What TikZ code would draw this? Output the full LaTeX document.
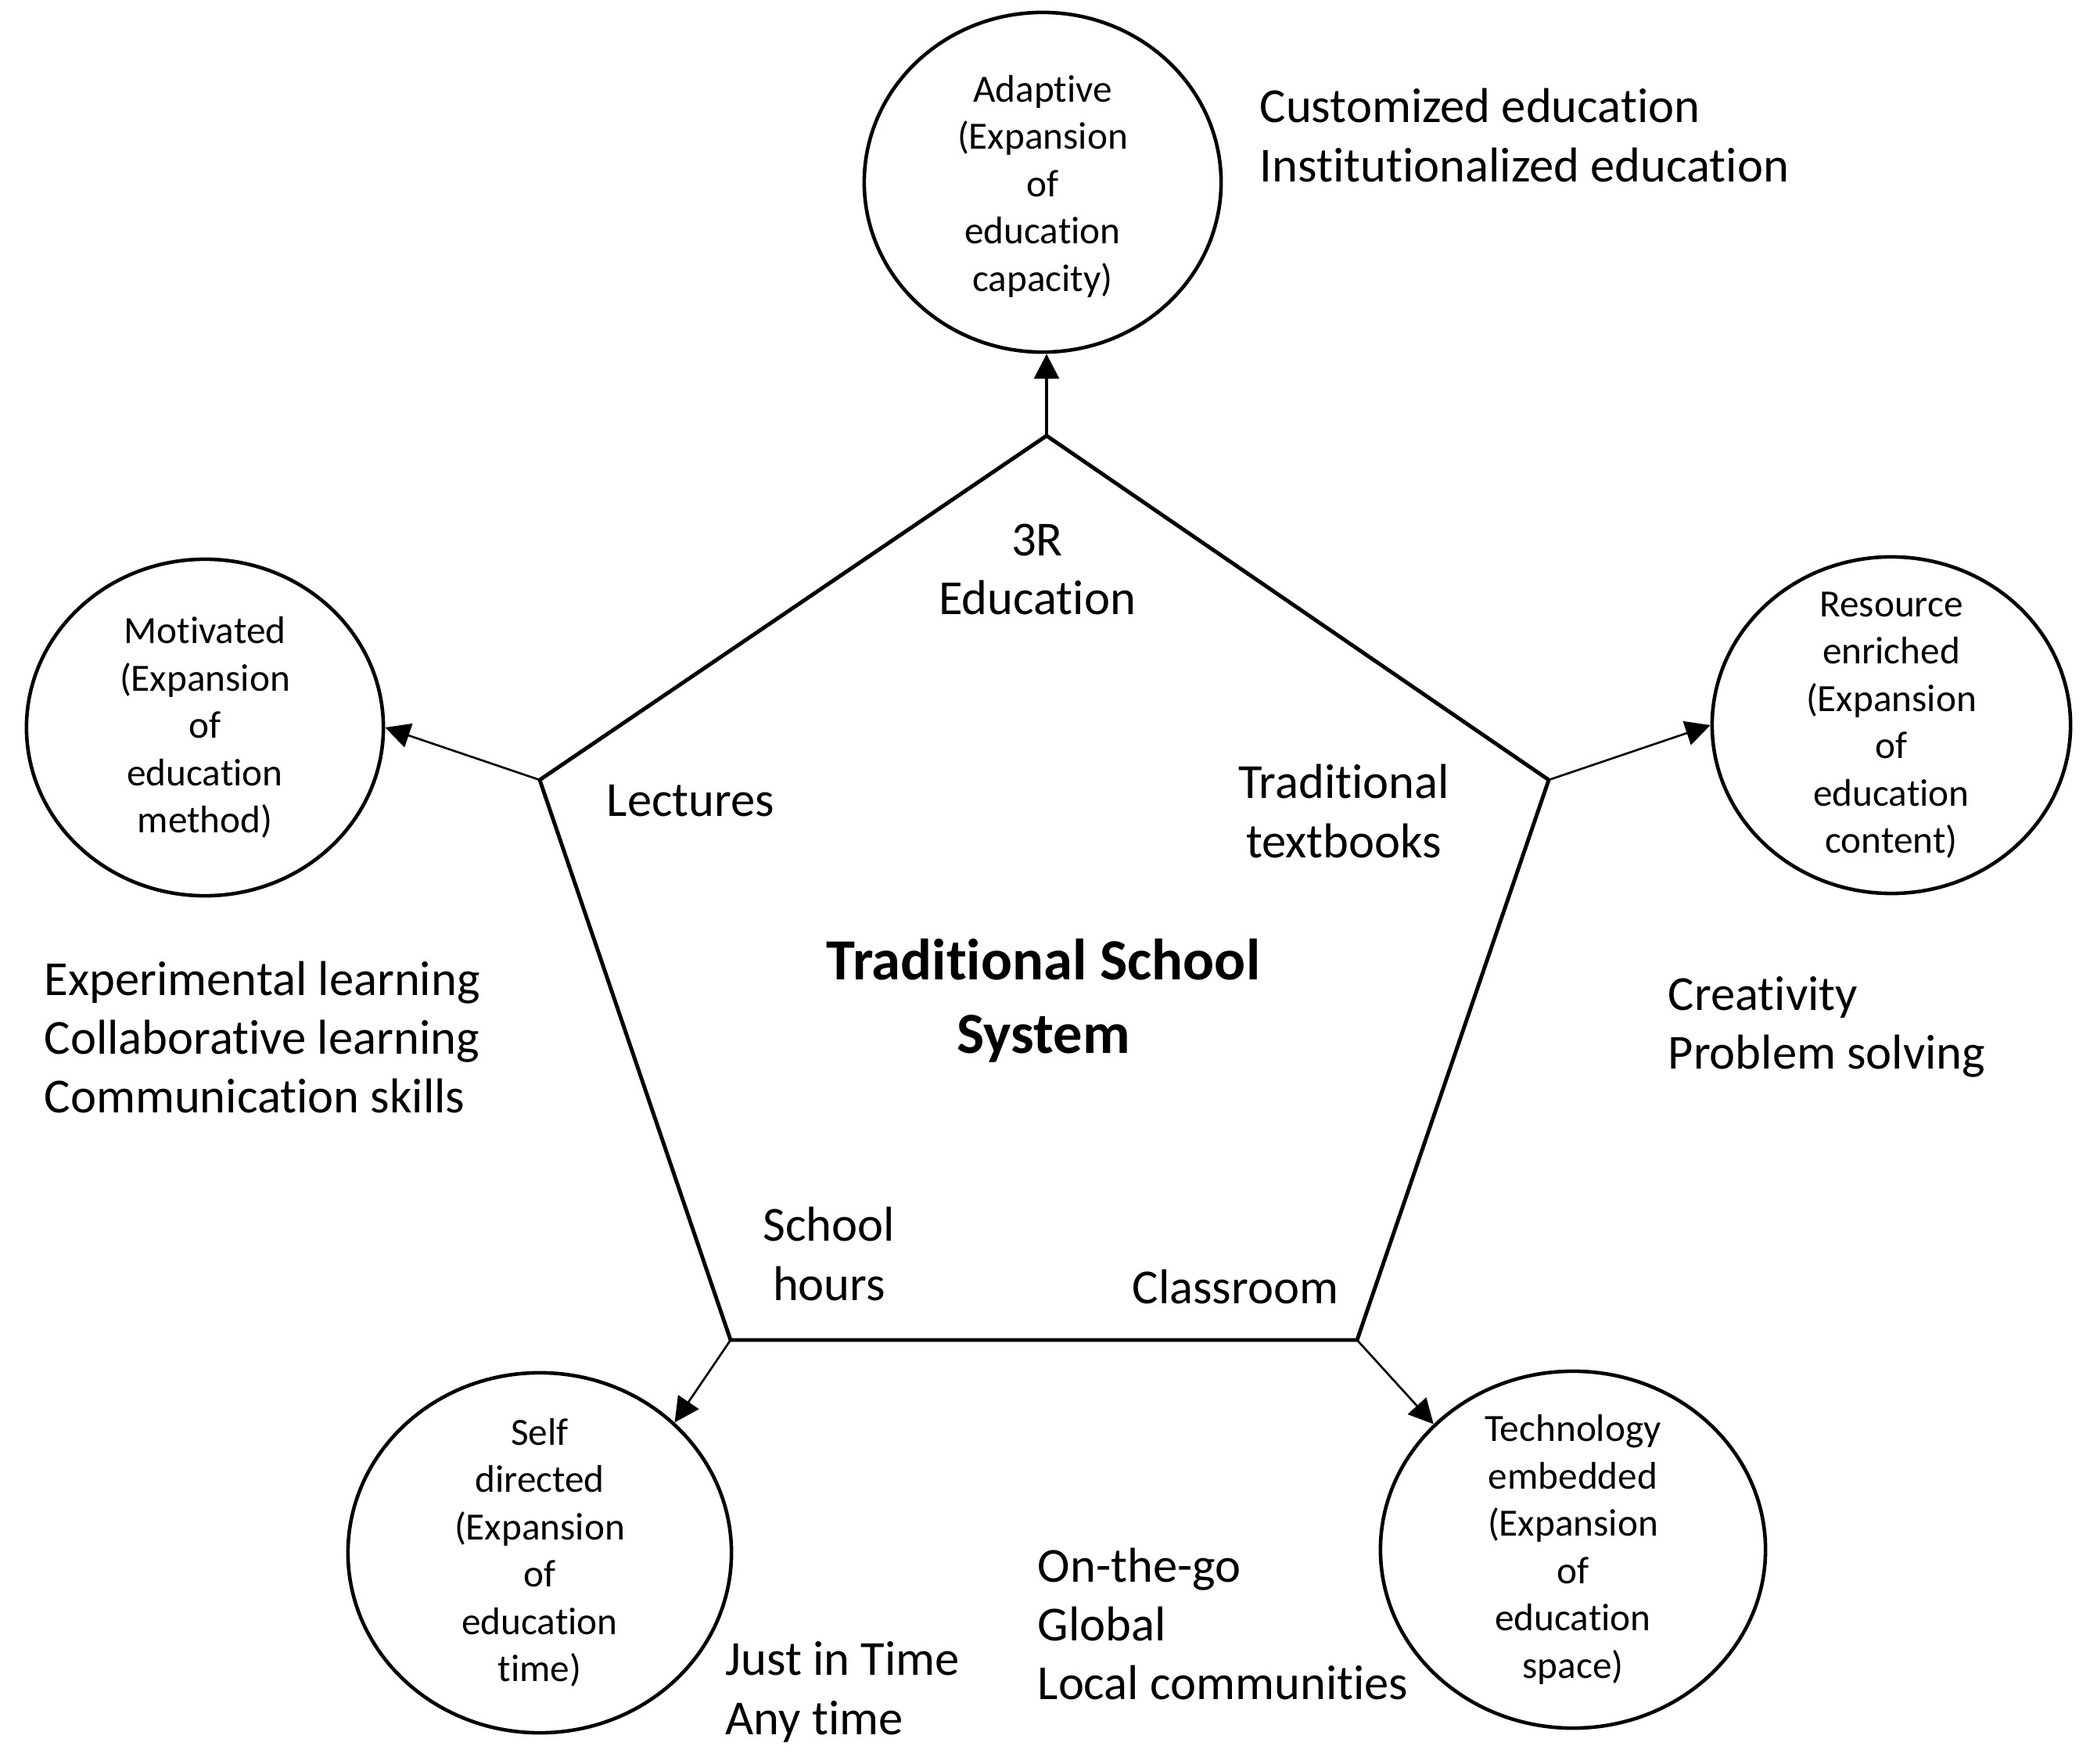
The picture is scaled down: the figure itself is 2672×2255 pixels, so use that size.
\documentclass[tikz,border=0pt]{standalone}
\usepackage{fontspec}
\setmainfont{Carlito}[Ligatures=NoCommon]
\usetikzlibrary{shapes.geometric,arrows.meta}
\begin{document}
\begin{tikzpicture}[x=0.01cm,y=-0.01cm,
 ell/.style={draw,ellipse,line width=1.3pt,inner sep=0},
 ctext/.style={align=center,font=\fontsize{14}{17.2}\selectfont,inner sep=0},
 lab/.style={align=left,font=\fontsize{17.8}{21.4}\selectfont,inner sep=0,anchor=west},
 labc/.style={align=center,font=\fontsize{17.8}{21.4}\selectfont,inner sep=0},
 edgeline/.style={line width=1.4pt,line join=miter},
 arr/.style={line width=0.75pt,-{Triangle[length=9pt,width=9pt]}}]
\useasboundingbox (0,0) rectangle (2672,2255);

% pentagon vertices
\coordinate (vt) at (1338,557);
\coordinate (vl) at (690,997);
\coordinate (vr) at (1980,997);
\coordinate (vbl) at (934,1713);
\coordinate (vbr) at (1735,1713);
\draw[edgeline] (vt) -- (vr) -- (vbr) -- (vbl) -- (vl) -- cycle;

% circles
\node[ell,minimum width=4.56cm,minimum height=4.34cm] (c1) at (1333,233) {};
\node[ell,minimum width=4.56cm,minimum height=4.30cm] (c2) at (262,930) {};
\node[ell,minimum width=4.58cm,minimum height=4.30cm] (c3) at (2418,927) {};
\node[ell,minimum width=4.90cm,minimum height=4.60cm] (c4) at (690,1985) {};
\node[ell,minimum width=4.92cm,minimum height=4.56cm] (c5) at (2011,1981) {};

\node[ctext] (t1) at ([yshift=-0.05cm]c1.center) {Adaptive\\(Expansion\\of\\education\\capacity)};
\node[ctext] (t2) at (c2) {Motivated\\(Expansion\\of\\education\\method)};
\node[ctext] (t3) at (c3) {Resource\\enriched\\(Expansion\\of\\education\\content)};
\node[ctext] (t4) at (c4) {Self\\directed\\(Expansion\\of\\education\\time)};
\node[ctext] (t5) at (c5) {Technology\\embedded\\(Expansion\\of\\education\\space)};

% arrows
\draw[arr,line width=1.1pt] (vt) -- (vt |- c1.south);
\draw[arr] (vl) -- (c2.east);
\draw[arr] (vr) -- (c3.west);
\draw[arr] (vbl) -- (c4.44);
\draw[arr] (vbr) -- (c5.138);

% labels
\node[lab] (l1) at (1610,173) {Customized education\\Institutionalized education};
\node[labc] (l2) at (1326,728) {3R\\Education};
\node[lab] (l3) at (775,1024) {Lectures};
\node[labc] (l4) at (1718,1037) {Traditional\\textbooks};
\node[align=center,font=\fontsize{21.2}{26.7}\selectfont\bfseries,inner sep=0] (l5) at (1334,1279) {Traditional School\\System};
\node[lab] (l6) at (56,1326) {Experimental learning\\Collaborative learning\\Communication skills};
\node[lab] (l7) at (2132,1313) {Creativity\\Problem solving};
\node[labc] (l8) at (1060,1603) {School\\hours};
\node[lab] (l9) at (1447,1645) {Classroom};
\node[lab] (l10) at (1326,2076) {On-the-go\\Global\\Local communities};
\node[lab] (l11) at (927,2163) {Just in Time\\Any time};
\end{tikzpicture}
\end{document}
